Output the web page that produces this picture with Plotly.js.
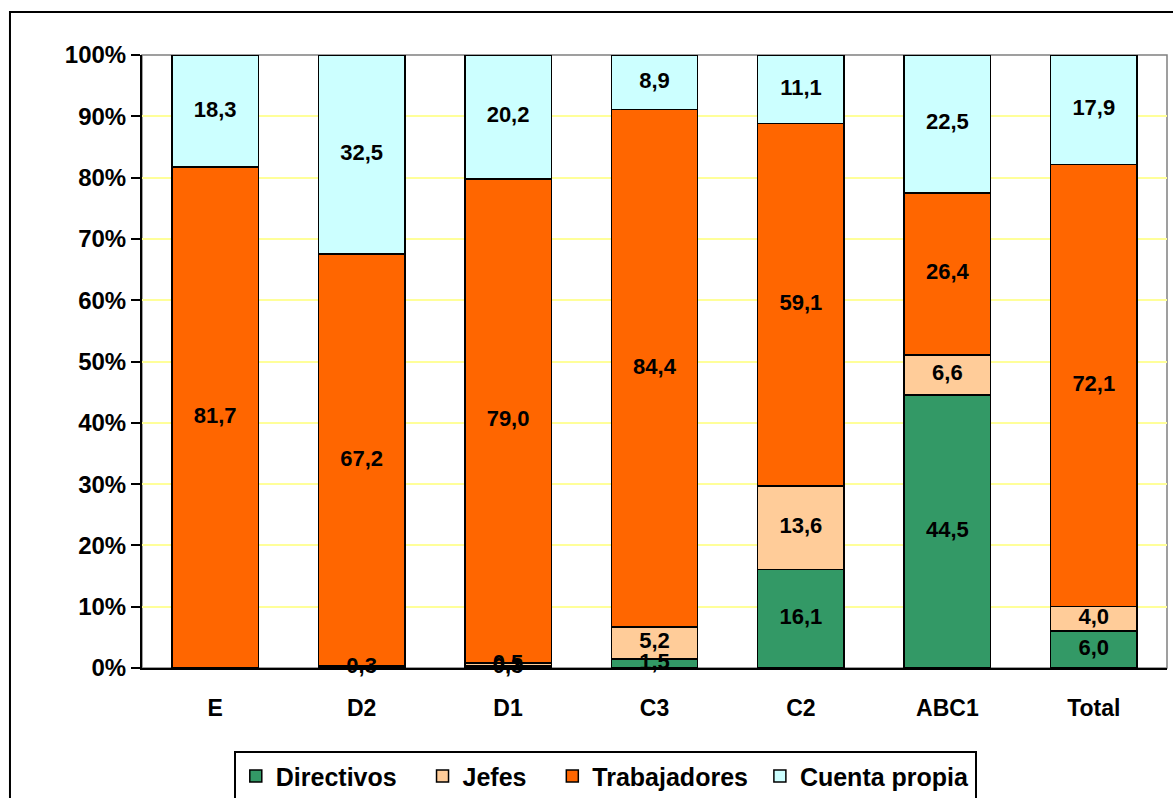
<!DOCTYPE html>
<html>
<head>
<meta charset="utf-8">
<script src="https://cdn.plot.ly/plotly-3.0.1.min.js"></script>
<style>html,body{margin:0;padding:0;background:#fff;overflow:hidden;}#chart{width:1173px;height:840px;}</style>
</head>
<body>
<div id="chart"></div>
<script>
const categories = ['E', 'D2', 'D1', 'C3', 'C2', 'ABC1', 'Total'];
const directivos = [null, null, 0.3, 1.5, 16.1, 44.5, 6.0];
const jefes = [null, 0.3, 0.5, 5.2, 13.6, 6.6, 4.0];
const trabajadores = [81.7, 67.2, 79.0, 84.4, 59.1, 26.4, 72.1];
const cuentaPropia = [18.3, 32.5, 20.2, 8.9, 11.1, 22.5, 17.9];
const seriesNames = ['Directivos', 'Jefes', 'Trabajadores', 'Cuenta propia'];
const seriesValues = [directivos, jefes, trabajadores, cuentaPropia];
const seriesColors = ['#339966', '#FFCC99', '#FF6600', '#CCFFFF'];
const yTicks = [0, 10, 20, 30, 40, 50, 60, 70, 80, 90, 100];

const FONT = 'Liberation Sans, Arial, sans-serif';
const NB = '\u00a0';
const legendPad = [NB.repeat(3), NB.repeat(3), NB.repeat(1), ''];

const barTraces = seriesNames.map((name, i) => ({
  type: 'bar',
  name: name + legendPad[i],
  x: categories,
  y: seriesValues[i],
  marker: {color: seriesColors[i], line: {color: '#000000', width: 1.5}},
  hoverinfo: 'x+y+name'
}));

// value labels drawn on top of all bars, centred on each stacked segment
const cumulative = categories.map(() => 0);
const labelTraces = seriesValues.map((vals) => {
  const xs = [], ys = [], cd = [];
  vals.forEach((v, j) => {
    if (v !== null) {
      xs.push(categories[j]);
      ys.push(cumulative[j] + v / 2);
      cd.push(v);
      cumulative[j] += v;
    }
  });
  return {
    type: 'scatter',
    mode: 'text',
    x: xs,
    y: ys,
    customdata: cd,
    texttemplate: '%{customdata:.1f}',
    textposition: 'middle center',
    textfont: {family: FONT, size: 22, color: '#000000', weight: 'bold'},
    cliponaxis: false,
    showlegend: false,
    hoverinfo: 'skip'
  };
});

const layout = {
  width: 1173,
  height: 840,
  margin: {l: 142, r: 6, t: 55, b: 172},
  paper_bgcolor: '#ffffff',
  plot_bgcolor: '#ffffff',
  barmode: 'stack',
  bargap: 0.41,
  separators: ',.',
  showlegend: true,
  font: {family: FONT, color: '#000000'},
  xaxis: {
    type: 'category',
    showline: true,
    linecolor: '#000000',
    linewidth: 2,
    ticks: '',
    tickfont: {family: FONT, size: 23, color: '#000000', weight: 'bold'},
    ticklabelstandoff: 18,
    showgrid: false,
    zeroline: false
  },
  yaxis: {
    range: [0, 100],
    tickvals: yTicks,
    ticktext: yTicks.map(v => v + '%'),
    ticks: 'outside',
    ticklen: 9,
    tickwidth: 2,
    tickcolor: '#000000',
    showline: true,
    linecolor: '#000000',
    linewidth: 2,
    showgrid: true,
    gridcolor: '#FFFF99',
    gridwidth: 2,
    zeroline: false,
    tickfont: {family: FONT, size: 24, color: '#000000', weight: 'bold'}
  },
  legend: {
    orientation: 'h',
    traceorder: 'normal',
    x: 0.452,
    xanchor: 'center',
    y: -0.136,
    yanchor: 'top',
    bgcolor: '#ffffff',
    bordercolor: '#000000',
    borderwidth: 2,
    font: {family: FONT, size: 25, color: '#000000', weight: 'bold'}
  },
  shapes: [
    {type: 'rect', xref: 'paper', yref: 'paper', x0: 0, x1: 1, y0: 0, y1: 1,
     line: {color: '#808080', width: 1.5}, layer: 'below'},
    {type: 'rect', xref: 'paper', yref: 'paper', x0: -0.1288, x1: 1.05, y0: -0.4, y1: 1.0702,
     line: {color: '#000000', width: 2}, fillcolor: 'rgba(0,0,0,0)', layer: 'below'}
  ]
};

Plotly.newPlot('chart', barTraces.concat(labelTraces), layout, {displayModeBar: false, staticPlot: true});
</script>
</body>
</html>
